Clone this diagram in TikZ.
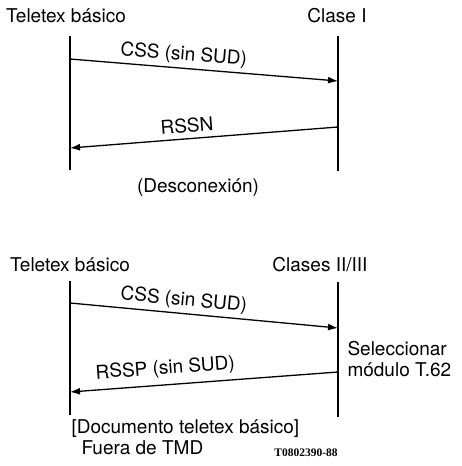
\documentclass[tikz,border=0pt]{standalone}
\usepackage{fontspec}
\setmainfont{TeX Gyre Heros}
\newfontfamily\refcodefont{Liberation Serif}
\usetikzlibrary{arrows.meta}

\begin{document}
\begin{tikzpicture}[x=1pt,y=-1pt,
        font=\fontsize{19}{21}\selectfont,
        life/.style={line width=1.7pt},
        msg/.style={line width=1.3pt,-{Latex[length=10pt,width=7pt]}}]
    \useasboundingbox (0,0) rectangle (462,466);
    % Clase I
    \node (ta) at (66,16) {Teletex básico};
    \node (tb) at (337,16) {Clase I};
    \coordinate (ta1) at (70,36);  \coordinate (ta2) at (70,170);
    \coordinate (tb1) at (338,36); \coordinate (tb2) at (338,171);
    \draw[life] (ta1) -- (ta2);
    \draw[life] (tb1) -- (tb2);
    \coordinate (tcss) at (70,59);  \coordinate (tcssend) at (338,81);
    \coordinate (trssn) at (338,127); \coordinate (trssnend) at (70,148);
    \draw[msg] (tcss) -- node[pos=0.42,sloped,above=0pt] (tcsslbl) {CSS (sin SUD)} (tcssend);
    \draw[msg] (trssn) -- node[pos=0.56,sloped,above=2pt] (trssnlbl) {RSSN} (trssnend);
    \node (tdisc) at (198,188) {(Desconexión)};
    % Clases II/III
    \node (ba) at (70,265) {Teletex básico};
    \node (bb) at (320,265) {Clases II/III};
    \coordinate (ba1) at (70,281);  \coordinate (ba2) at (70,415);
    \coordinate (bb1) at (338,282); \coordinate (bb2) at (338,417);
    \draw[life] (ba1) -- (ba2);
    \draw[life] (bb1) -- (bb2);
    \coordinate (bcss) at (70,303);  \coordinate (bcssend) at (338,328);
    \coordinate (brssp) at (338,372); \coordinate (brsspend) at (70,392);
    \draw[msg] (bcss) -- node[pos=0.42,sloped,above=0pt] (bcsslbl) {CSS (sin SUD)} (bcssend);
    \draw[msg] (brssp) -- node[pos=0.64,sloped,above=3pt] (brssplbl) {RSSP (sin SUD)} (brsspend);
    \node[anchor=west,align=left] (bsel) at (344,359) {Seleccionar\\módulo T.62};
    \node[anchor=west] (bdoc) at (68,429) {[Documento teletex básico]};
    \node[anchor=west] (bfuera) at (78,448) {Fuera de TMD};
    \node (bcode) at (306,453) {\refcodefont\bfseries\fontsize{11.5}{13}\selectfont T0802390-88};
\end{tikzpicture}
\end{document}
